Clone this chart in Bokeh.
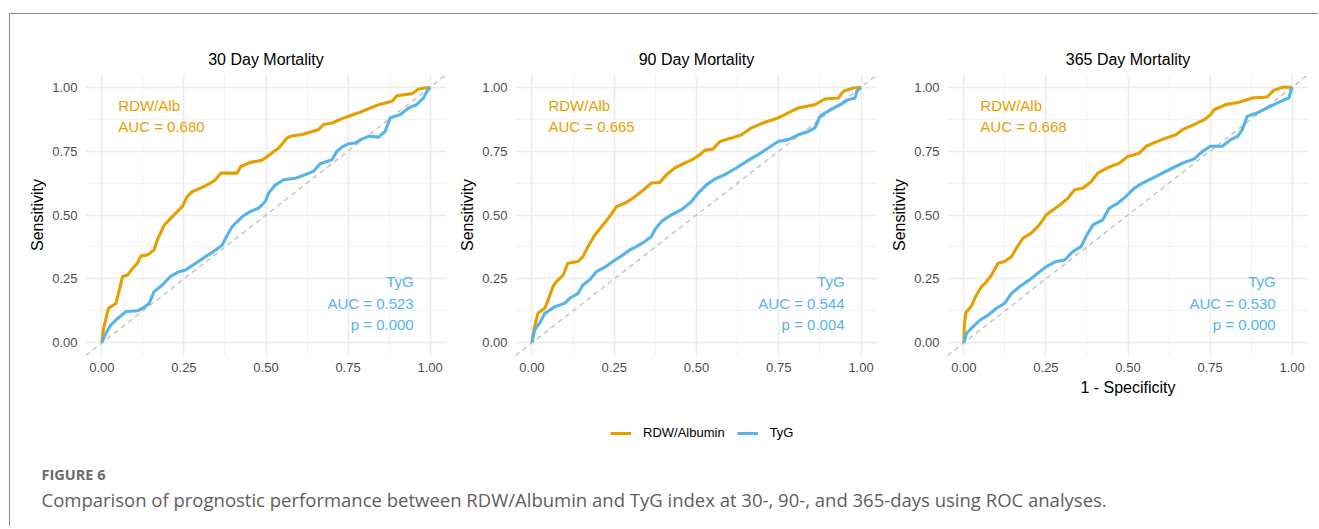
from bokeh.plotting import figure
from bokeh.layouts import row, column
from bokeh.models import (Range1d, FixedTicker, NumeralTickFormatter, Slope, Label,
                          Legend, LegendItem)
from bokeh.embed import file_html
from bokeh.resources import INLINE

# ---------------- data ----------------
titles = ["30 Day Mortality", "90 Day Mortality", "365 Day Mortality"]
rdw_auc = ["0.680", "0.665", "0.668"]
tyg_auc = ["0.523", "0.544", "0.530"]
tyg_p = ["0.000", "0.004", "0.000"]
series_names = ["RDW/Albumin", "TyG"]
tick_values = [0.0, 0.25, 0.5, 0.75, 1.0]
minor_values = [0.125, 0.375, 0.625, 0.875]

rdw30_fpr = [0, 0.004, 0.02, 0.043, 0.053, 0.063, 0.078, 0.093, 0.108, 0.119, 0.139, 0.159, 0.169,
             0.19, 0.21, 0.225, 0.245, 0.26, 0.276, 0.301, 0.331, 0.346, 0.362, 0.412, 0.423, 0.453,
             0.488, 0.504, 0.524, 0.539, 0.564, 0.574, 0.61, 0.66, 0.675, 0.701, 0.737, 0.782, 0.818,
             0.843, 0.884, 0.899, 0.945, 0.965, 1.0]
rdw30_tpr = [0, 0.05, 0.135, 0.154, 0.207, 0.259, 0.265, 0.29, 0.311, 0.34, 0.344, 0.363, 0.403,
             0.461, 0.488, 0.507, 0.533, 0.573, 0.592, 0.605, 0.625, 0.638, 0.664, 0.664, 0.69, 0.706,
             0.714, 0.729, 0.749, 0.762, 0.801, 0.808, 0.815, 0.834, 0.854, 0.86, 0.88, 0.9, 0.919,
             0.932, 0.945, 0.967, 0.975, 0.993, 1.0]
tyg30_fpr = [0, 0.012, 0.027, 0.048, 0.073, 0.108, 0.124, 0.144, 0.159, 0.184, 0.21, 0.235, 0.255,
             0.286, 0.316, 0.347, 0.367, 0.377, 0.397, 0.428, 0.453, 0.478, 0.498, 0.508, 0.529, 0.554,
             0.59, 0.62, 0.645, 0.665, 0.701, 0.716, 0.731, 0.752, 0.772, 0.792, 0.813, 0.843, 0.863,
             0.878, 0.909, 0.934, 0.959, 0.98, 0.99, 1.0]
tyg30_tpr = [0, 0.037, 0.069, 0.095, 0.122, 0.125, 0.135, 0.154, 0.2, 0.226, 0.261, 0.278, 0.285,
             0.311, 0.337, 0.363, 0.383, 0.409, 0.455, 0.494, 0.514, 0.527, 0.553, 0.586, 0.618, 0.638,
             0.644, 0.658, 0.671, 0.701, 0.716, 0.749, 0.766, 0.779, 0.782, 0.797, 0.808, 0.805, 0.827,
             0.88, 0.893, 0.919, 0.932, 0.958, 0.984, 1.0]

rdw90_fpr = [0, 0.006, 0.018, 0.039, 0.049, 0.064, 0.074, 0.095, 0.109, 0.14, 0.155, 0.17, 0.191,
             0.216, 0.236, 0.257, 0.282, 0.307, 0.333, 0.363, 0.388, 0.409, 0.434, 0.464, 0.49, 0.51,
             0.525, 0.55, 0.571, 0.606, 0.637, 0.665, 0.708, 0.748, 0.779, 0.809, 0.86, 0.89, 0.931,
             0.946, 0.976, 1.0]
rdw90_tpr = [0, 0.05, 0.115, 0.135, 0.167, 0.22, 0.239, 0.265, 0.311, 0.318, 0.337, 0.376, 0.422,
             0.461, 0.494, 0.533, 0.546, 0.566, 0.592, 0.625, 0.627, 0.658, 0.684, 0.703, 0.719, 0.736,
             0.753, 0.758, 0.788, 0.801, 0.814, 0.84, 0.863, 0.88, 0.9, 0.919, 0.932, 0.954, 0.958,
             0.984, 0.997, 1.0]
tyg90_fpr = [0, 0.008, 0.023, 0.039, 0.069, 0.099, 0.115, 0.14, 0.155, 0.175, 0.196, 0.225, 0.252,
             0.277, 0.297, 0.317, 0.343, 0.363, 0.373, 0.394, 0.424, 0.454, 0.485, 0.505, 0.53, 0.556,
             0.586, 0.621, 0.657, 0.687, 0.718, 0.748, 0.779, 0.809, 0.84, 0.86, 0.875, 0.906, 0.937,
             0.961, 0.982, 0.987, 1.0]
tyg90_tpr = [0, 0.05, 0.076, 0.115, 0.141, 0.154, 0.174, 0.193, 0.226, 0.246, 0.278, 0.298, 0.324,
             0.344, 0.363, 0.376, 0.396, 0.416, 0.442, 0.475, 0.501, 0.52, 0.553, 0.586, 0.618, 0.641,
             0.658, 0.684, 0.714, 0.736, 0.762, 0.788, 0.795, 0.814, 0.827, 0.841, 0.886, 0.912, 0.932,
             0.951, 0.958, 0.984, 1.0]

rdw365_fpr = [0, 0.001, 0.006, 0.023, 0.038, 0.054, 0.069, 0.084, 0.104, 0.124, 0.145, 0.16, 0.18,
              0.205, 0.23, 0.251, 0.271, 0.297, 0.317, 0.337, 0.362, 0.388, 0.408, 0.443, 0.474, 0.499,
              0.534, 0.555, 0.59, 0.615, 0.646, 0.666, 0.701, 0.732, 0.752, 0.762, 0.798, 0.838, 0.879,
              0.924, 0.944, 0.97, 1.0]
rdw365_tpr = [0, 0.063, 0.118, 0.144, 0.187, 0.22, 0.239, 0.265, 0.311, 0.318, 0.337, 0.37, 0.409,
              0.429, 0.461, 0.501, 0.52, 0.544, 0.566, 0.599, 0.605, 0.631, 0.664, 0.688, 0.703, 0.729,
              0.742, 0.769, 0.788, 0.801, 0.814, 0.834, 0.854, 0.873, 0.893, 0.912, 0.932, 0.941, 0.958,
              0.962, 0.988, 1.0, 1.0]
tyg365_fpr = [0, 0.008, 0.028, 0.049, 0.074, 0.099, 0.124, 0.145, 0.17, 0.2, 0.225, 0.251, 0.281,
              0.307, 0.332, 0.357, 0.372, 0.393, 0.423, 0.443, 0.469, 0.494, 0.519, 0.544, 0.575, 0.605,
              0.636, 0.666, 0.701, 0.727, 0.751, 0.787, 0.813, 0.834, 0.848, 0.863, 0.894, 0.924, 0.954,
              0.975, 0.99, 1.0]
tyg365_tpr = [0, 0.037, 0.063, 0.089, 0.108, 0.135, 0.154, 0.193, 0.22, 0.246, 0.272, 0.298, 0.318,
              0.324, 0.357, 0.376, 0.416, 0.461, 0.481, 0.527, 0.546, 0.573, 0.605, 0.625, 0.644, 0.664,
              0.684, 0.703, 0.719, 0.749, 0.769, 0.769, 0.795, 0.808, 0.834, 0.886, 0.9, 0.919, 0.938,
              0.951, 0.958, 1.0]

rdw_curves = [(rdw30_fpr, rdw30_tpr), (rdw90_fpr, rdw90_tpr), (rdw365_fpr, rdw365_tpr)]
tyg_curves = [(tyg30_fpr, tyg30_tpr), (tyg90_fpr, tyg90_tpr), (tyg365_fpr, tyg365_tpr)]

# ---------------- style ----------------
ORANGE = "#E69F00"
BLUE = "#56B4E9"
FONT = "Liberation Sans"
CAP_FONT = "Open Sans"
LW = 3.1

panel_specs = [
    dict(width=436, left=75, right=0),
    dict(width=431, left=69, right=0),
    dict(width=441, left=70, right=10),
]
ROW_H = 389
TOP = 60
BOTTOM = 48


def make_panel(i):
    spec = panel_specs[i]
    p = figure(width=spec["width"], height=ROW_H, min_border_left=spec["left"],
               min_border_right=spec["right"], min_border_top=TOP, min_border_bottom=BOTTOM,
               x_range=Range1d(-0.05, 1.05), y_range=Range1d(-0.05, 1.05),
               output_backend="svg", toolbar_location=None, title=titles[i])
    p.outline_line_color = None
    p.background_fill_color = "white"
    p.border_fill_color = "white"
    p.title.align = "center"
    p.title.text_font = FONT
    p.title.text_font_size = "16px"
    p.title.text_font_style = "normal"
    p.title.text_color = "black"
    p.title.standoff = 13

    ticker = FixedTicker(ticks=tick_values, minor_ticks=minor_values)
    for ax in (p.xaxis[0], p.yaxis[0]):
        ax.ticker = ticker
        ax.formatter = NumeralTickFormatter(format="0.00")
        ax.axis_line_color = None
        ax.major_tick_line_color = None
        ax.minor_tick_line_color = None
        ax.major_tick_out = 0
        ax.major_tick_in = 0
        ax.minor_tick_out = 0
        ax.major_label_text_font = FONT
        ax.major_label_text_font_size = "13px"
        ax.major_label_text_color = "#4d4d4d"
        ax.axis_label_text_font = FONT
        ax.axis_label_text_font_size = "16px"
        ax.axis_label_text_font_style = "normal"
        ax.axis_label_text_color = "black"
    p.xaxis[0].major_label_standoff = 7
    p.yaxis[0].major_label_standoff = 8
    p.yaxis[0].axis_label = "Sensitivity"
    p.yaxis[0].axis_label_standoff = 3
    if i == 2:
        p.xaxis[0].axis_label = "1 - Specificity"
        p.xaxis[0].axis_label_standoff = 4

    for g in p.grid:
        g.ticker = ticker
        g.grid_line_color = "#ebebeb"
        g.grid_line_width = 1.6
        g.minor_grid_line_color = "#f2f2f2"
        g.minor_grid_line_width = 0.9

    diag = Slope(gradient=1, y_intercept=0, line_color="#bdbdbd", line_width=1.3,
                 line_dash="5 4", level="underlay")
    p.add_layout(diag)

    fx, fy = rdw_curves[i]
    tx, ty = tyg_curves[i]
    p.line(x=fx, y=fy, line_color=ORANGE, line_width=LW)
    p.line(x=tx, y=ty, line_color=BLUE, line_width=LW)

    def lab(text, x, y, color, align):
        p.add_layout(Label(x=x, y=y, text=text, text_color=color, text_font=FONT,
                           text_font_size="15px", text_align=align, text_baseline="middle"))

    lab("RDW/Alb", 0.05, 0.93, ORANGE, "left")
    lab("AUC = " + rdw_auc[i], 0.05, 0.845, ORANGE, "left")
    lab("TyG", 0.95, 0.24, BLUE, "right")
    lab("AUC = " + tyg_auc[i], 0.95, 0.155, BLUE, "right")
    lab("p = " + tyg_p[i], 0.95, 0.07, BLUE, "right")
    return p


panels = [make_panel(i) for i in range(3)]

# ---------------- bottom: legend + caption ----------------
# ranges chosen so that the key's sample lines lie outside the visible area
bottom = figure(width=1308, height=123, min_border=0, x_range=Range1d(2, 3), y_range=Range1d(2, 3),
                output_backend="svg", toolbar_location=None)
bottom.axis.visible = False
bottom.grid.visible = False
bottom.outline_line_color = None
r1 = bottom.line(x=rdw30_fpr, y=rdw30_tpr, line_color=ORANGE, line_width=LW)
r2 = bottom.line(x=tyg30_fpr, y=tyg30_tpr, line_color=BLUE, line_width=LW)
legend = Legend(items=[LegendItem(label=series_names[0], renderers=[r1]),
                       LegendItem(label=series_names[1], renderers=[r2])],
                orientation="horizontal", location=(600, 86), padding=0, margin=0,
                spacing=12, label_standoff=12, glyph_width=21, glyph_height=14, label_height=14,
                label_text_font=FONT, label_text_font_size="13px", label_text_color="black",
                border_line_color=None, background_fill_alpha=0)
bottom.add_layout(legend)

bottom.add_layout(Label(x=31, y=52, x_units="screen", y_units="screen", text="FIGURE 6",
                        text_font=CAP_FONT, text_font_size="14.5px", text_font_style="bold",
                        text_color="#6b6b6b", text_baseline="middle"))
bottom.add_layout(Label(x=31, y=27, x_units="screen", y_units="screen",
                        text="Comparison of prognostic performance between RDW/Albumin and TyG index at 30-, 90-, and 365-days using ROC analyses.",
                        text_font=CAP_FONT, text_font_size="18.5px",
                        text_color="#5e5e5e", text_baseline="middle"))

layout = column(row(*panels), bottom, margin=(13, 0, 0, 9),
                styles={"border-top": "1.5px solid #8a8a8a", "border-left": "1.5px solid #8a8a8a"})

open("out.html", "w").write(file_html(layout, INLINE))
